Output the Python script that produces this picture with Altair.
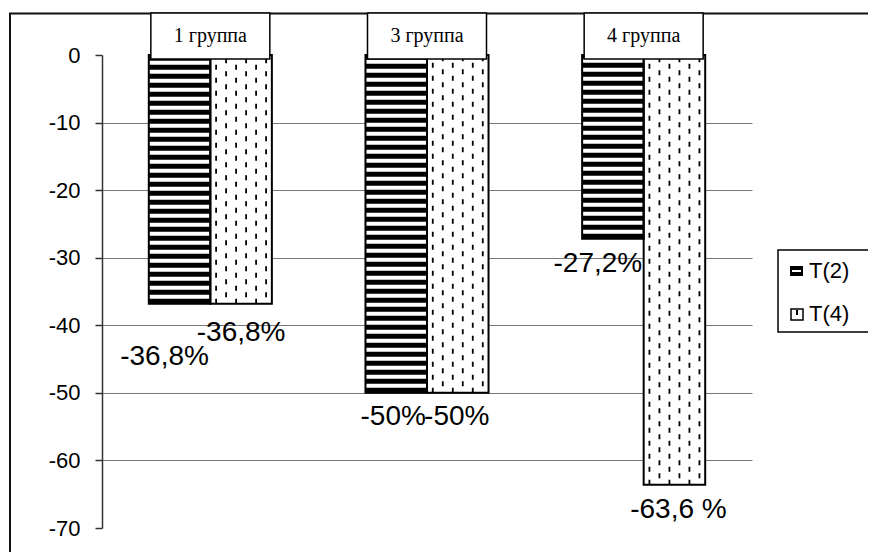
import altair as alt
import pandas as pd

# ---- data ----
groups = ["1 группа", "3 группа", "4 группа"]
series = ["T(2)", "T(4)"]
t2_values = [-36.8, -50.0, -27.2]
t4_values = [-36.8, -50.0, -63.6]
t2_labels = ["-36,8%", "-50%", "-27,2%"]
t4_labels = ["-36,8%", "-50%", "-63,6 %"]
y_ticks = [0, -10, -20, -30, -40, -50, -60, -70]

rows = []
for i, g in enumerate(groups):
    rows.append(dict(group=g, series=series[0], value=t2_values[i], label=t2_labels[i], idx=2 * i))
    rows.append(dict(group=g, series=series[1], value=t4_values[i], label=t4_labels[i], idx=2 * i + 1))
df = pd.DataFrame(rows)
one = pd.DataFrame({"k": [0]})
leg = pd.DataFrame({"series": series})

# ---- layout / style ----
W, H = 650, 473
SUB = 30.77  # half of a series sub-band in px
SANS = "Liberation Sans"
SERIF = "Liberation Serif"

x_enc = alt.X("group:N", sort=groups,
              scale=alt.Scale(domain=groups, paddingInner=0.432, paddingOuter=0.216),
              axis=None)
y_enc = alt.Y("value:Q",
              scale=alt.Scale(domain=[-70, 0], nice=False, zero=False),
              axis=alt.Axis(values=y_ticks, title=None, labelFont=SANS, labelFontSize=22,
                            labelExpr="'' + datum.value",
                            labelColor="black", tickSize=7, tickColor="#333", tickWidth=1.5,
                            domainColor="#333", domainWidth=1.5, labelPadding=15,
                            grid=True, gridColor="#777", gridWidth=1.2,
                            gridOpacity={"condition": {"test": "datum.value === 0 || datum.value === -70",
                                                       "value": 0}, "value": 1}))
xo_enc = alt.XOffset("series:N", sort=series, scale=alt.Scale(domain=series, paddingInner=0, paddingOuter=0))

base = alt.Chart(df)

frame = alt.Chart(one).mark_rect(fill="white", fillOpacity=0, stroke="#111", strokeWidth=2).encode(
    x=alt.value(-92), x2=alt.value(W + 300), y=alt.value(-41.5), y2=alt.value(H + 200))

bars_fill = base.mark_bar(fill="white", stroke=None).encode(x=x_enc, xOffset=xo_enc, y=y_enc, y2=alt.datum(0))

stripes = base.transform_filter(alt.datum.series == series[0]).mark_rule(
    color="black", strokeWidth=2 * SUB, strokeDash=[5, 4], xOffset=-SUB, strokeCap="butt").encode(
    x=x_enc, y=alt.Y("value:Q"), y2=alt.datum(0))

dash_layers = []
for j, c in enumerate([-25, -15, -5, 5, 15, 25]):
    dash_layers.append(
        base.transform_filter(alt.datum.series == series[1]).mark_rule(
            color="black", strokeWidth=1.8, strokeDash=[5, 8], strokeDashOffset=0 if j % 2 == 0 else 6.5,
            xOffset=SUB + c, strokeCap="butt").encode(
            x=x_enc, y=alt.Y("value:Q"), y2=alt.datum(0)))

bars_outline = base.mark_bar(fill="white", fillOpacity=0, stroke="black", strokeWidth=2).encode(
    x=x_enc, xOffset=xo_enc, y=alt.Y("value:Q"), y2=alt.datum(0))

gbox = alt.Chart(pd.DataFrame({"group": groups})).mark_bar(
    width=119, fill="white", stroke="black", strokeWidth=1.5).encode(
    x=x_enc, y=alt.value(-42), y2=alt.value(4))
gtext = alt.Chart(pd.DataFrame({"group": groups})).mark_text(
    font=SERIF, fontSize=20, color="black", baseline="middle").encode(
    x=x_enc, y=alt.value(-19), text="group:N")

# per-label placement (dx, dy from the bar end, alphabetic baseline)
label_style = [(-15, 61), (0, 37), (-3, 32), (-1, 32), (-15, 33), (4, 33)]
label_layers = []
for i, (dx, dy) in enumerate(label_style):
    sign = -1 if i % 2 == 0 else 1
    label_layers.append(
        base.transform_filter(alt.datum.idx == i).mark_text(
            font=SANS, fontSize=28, color="black", baseline="alphabetic", align="center",
            xOffset=sign * SUB + dx, yOffset=dy).encode(
            x=x_enc, y=alt.Y("value:Q"), text="label:N"))

# legend (drawn)
LX, LY = 676, 195
leg_box = alt.Chart(one).mark_rect(fill="white", stroke="black", strokeWidth=1.5).encode(
    x=alt.value(LX), x2=alt.value(LX + 100), y=alt.value(LY), y2=alt.value(LY + 82))
sym1 = alt.Chart(one).mark_rect(fill="black").encode(
    x=alt.value(LX + 12), x2=alt.value(LX + 25), y=alt.value(LY + 16), y2=alt.value(LY + 26))
sym1b = alt.Chart(one).mark_rect(fill="white").encode(
    x=alt.value(LX + 14), x2=alt.value(LX + 23), y=alt.value(LY + 20), y2=alt.value(LY + 22))
sym2 = alt.Chart(one).mark_rect(fill="white", stroke="black", strokeWidth=1.5).encode(
    x=alt.value(LX + 13), x2=alt.value(LX + 25), y=alt.value(LY + 59), y2=alt.value(LY + 70))
sym2b = alt.Chart(one).mark_rule(color="black", strokeWidth=2).encode(
    x=alt.value(LX + 19), y=alt.value(LY + 60), y2=alt.value(LY + 65))
leg_t1 = alt.Chart(leg).transform_filter(alt.datum.series == series[0]).mark_text(
    font=SANS, fontSize=22, color="black", align="left", baseline="middle").encode(
    x=alt.value(LX + 31), y=alt.value(LY + 21), text="series:N")
leg_t2 = alt.Chart(leg).transform_filter(alt.datum.series == series[1]).mark_text(
    font=SANS, fontSize=22, color="black", align="left", baseline="middle").encode(
    x=alt.value(LX + 31), y=alt.value(LY + 64), text="series:N")

chart = alt.layer(
    frame, bars_fill, stripes, *dash_layers, bars_outline, gbox, gtext, *label_layers,
    leg_box, sym1, sym1b, sym2, sym2b, leg_t1, leg_t2
).properties(
    width=W, height=H,
    autosize=alt.AutoSizeParams(type="none"),
    padding={"left": 94, "top": 47, "right": 116, "bottom": 24},
    background="white",
).configure_view(stroke=None)

chart.save("out.html", embed_options={"renderer": "svg", "actions": False})
